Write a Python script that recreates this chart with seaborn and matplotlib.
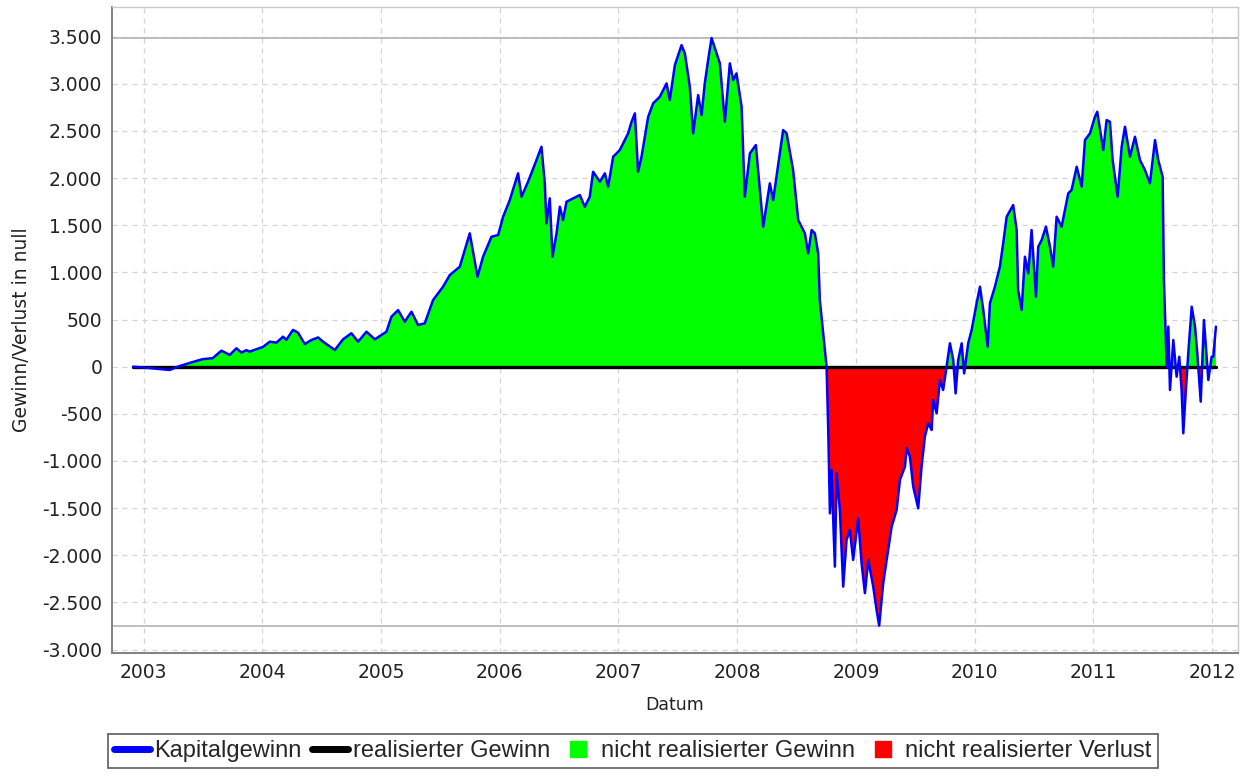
import numpy as np
import pandas as pd
import matplotlib
matplotlib.use("Agg")
import matplotlib.pyplot as plt
import seaborn as sns
from matplotlib.lines import Line2D
from matplotlib.ticker import FuncFormatter, MultipleLocator

jahr = [
    2002.910, 2003.051, 2003.219, 2003.287, 2003.388, 2003.497, 2003.581, 2003.655,
    2003.725, 2003.781, 2003.823, 2003.865, 2003.893, 2004.005, 2004.062, 2004.118,
    2004.174, 2004.202, 2004.258, 2004.300, 2004.357, 2004.413, 2004.469, 2004.511,
    2004.610, 2004.679, 2004.750, 2004.806, 2004.877, 2004.947, 2005.045, 2005.087,
    2005.143, 2005.199, 2005.256, 2005.311, 2005.368, 2005.438, 2005.522, 2005.579,
    2005.663, 2005.747, 2005.812, 2005.859, 2005.930, 2005.986, 2006.028, 2006.084,
    2006.154, 2006.183, 2006.238, 2006.309, 2006.351, 2006.379, 2006.393, 2006.421,
    2006.444, 2006.478, 2006.506, 2006.533, 2006.562, 2006.674, 2006.716, 2006.758,
    2006.786, 2006.843, 2006.885, 2006.913, 2006.955, 2007.011, 2007.081, 2007.110,
    2007.138, 2007.165, 2007.194, 2007.250, 2007.292, 2007.348, 2007.405, 2007.432,
    2007.475, 2007.531, 2007.559, 2007.601, 2007.629, 2007.671, 2007.700, 2007.727,
    2007.755, 2007.784, 2007.826, 2007.854, 2007.896, 2007.938, 2007.966, 2007.994,
    2008.037, 2008.064, 2008.107, 2008.157, 2008.219, 2008.275, 2008.303, 2008.387,
    2008.416, 2008.471, 2008.514, 2008.570, 2008.598, 2008.627, 2008.654, 2008.682,
    2008.696, 2008.724, 2008.753, 2008.767, 2008.781, 2008.795, 2008.808, 2008.823,
    2008.837, 2008.865, 2008.893, 2008.921, 2008.949, 2008.977, 2009.019, 2009.048,
    2009.076, 2009.104, 2009.146, 2009.174, 2009.196, 2009.230, 2009.272, 2009.301,
    2009.343, 2009.371, 2009.413, 2009.427, 2009.455, 2009.483, 2009.525, 2009.553,
    2009.581, 2009.609, 2009.638, 2009.651, 2009.680, 2009.708, 2009.735, 2009.764,
    2009.792, 2009.820, 2009.840, 2009.862, 2009.891, 2009.912, 2009.946, 2009.975,
    2010.017, 2010.045, 2010.073, 2010.110, 2010.129, 2010.171, 2010.213, 2010.241,
    2010.270, 2010.325, 2010.354, 2010.367, 2010.396, 2010.424, 2010.452, 2010.480,
    2010.517, 2010.536, 2010.565, 2010.601, 2010.635, 2010.662, 2010.691, 2010.733,
    2010.789, 2010.817, 2010.860, 2010.902, 2010.930, 2010.972, 2011.014, 2011.033,
    2011.084, 2011.112, 2011.140, 2011.163, 2011.205, 2011.239, 2011.267, 2011.309,
    2011.351, 2011.393, 2011.435, 2011.477, 2011.520, 2011.547, 2011.584, 2011.595,
    2011.618, 2011.632, 2011.646, 2011.674, 2011.702, 2011.724, 2011.744, 2011.758,
    2011.778, 2011.800, 2011.829, 2011.857, 2011.876, 2011.905, 2011.932, 2011.955,
    2011.969, 2011.997, 2012.011, 2012.033,
]

kapitalgewinn = [
    0, -15, -35, 0, 40, 80, 90, 170,
    125, 195, 150, 175, 160, 210, 265, 255,
    318, 285, 390, 360, 240, 283, 310, 265,
    177, 290, 354, 265, 371, 290, 371, 530,
    600, 477, 583, 442, 460, 707, 848, 972,
    1060, 1414, 954, 1166, 1378, 1396, 1590, 1767,
    2050, 1802, 1961, 2191, 2332, 1944, 1520, 1785,
    1166, 1414, 1696, 1555, 1749, 1820, 1696, 1802,
    2067, 1961, 2050, 1908, 2226, 2297, 2474, 2597,
    2686, 2067, 2226, 2650, 2792, 2862, 3004, 2827,
    3198, 3410, 3322, 2968, 2474, 2880, 2668, 3004,
    3251, 3485, 3322, 3216, 2597, 3216, 3039, 3110,
    2756, 1802, 2262, 2350, 1484, 1944, 1767, 2509,
    2474, 2085, 1555, 1414, 1202, 1449, 1414, 1202,
    707, 354, 0, -671, -1555, -1095, -1590, -2120,
    -1130, -1520, -2332, -1837, -1731, -2049, -1607, -2085,
    -2402, -2049, -2332, -2579, -2745, -2296, -1943, -1696,
    -1520, -1201, -1060, -865, -954, -1272, -1502, -1060,
    -742, -600, -671, -353, -494, -141, -247, 0,
    248, 71, -283, 71, 248, -71, 248, 389,
    672, 848, 601, 212, 672, 848, 1060, 1308,
    1590, 1714, 1449, 813, 601, 1166, 990, 1449,
    742, 1272, 1343, 1484, 1272, 1060, 1590, 1484,
    1838, 1873, 2120, 1908, 2403, 2474, 2650, 2703,
    2297, 2615, 2597, 2191, 1802, 2332, 2544, 2226,
    2438, 2191, 2085, 1944, 2403, 2191, 2014, 919,
    0, 424, -247, 283, -106, 106, -247, -706,
    -283, 141, 636, 424, 141, -371, 495, 106,
    -141, 106, 106, 424,
]

realisierter_gewinn = [0.0] * len(jahr)

df = pd.DataFrame({
    "Datum": jahr,
    "Kapitalgewinn": kapitalgewinn,
    "realisiert": realisierter_gewinn,
})

sns.set_style("white")
plt.rcParams["font.family"] = ["DejaVu Sans"]

W, H = 1241, 776
fig = plt.figure(figsize=(W / 100, H / 100), dpi=100)
ax = fig.add_axes([112 / W, 1 - 653 / H, (1238 - 112) / W, (653 - 7) / H])

x = df["Datum"].to_numpy()
y = df["Kapitalgewinn"].to_numpy(dtype=float)
ax.fill_between(x, 0, y, where=y >= 0, interpolate=True, color="#00ff00", lw=0, zorder=1)
ax.fill_between(x, 0, y, where=y <= 0, interpolate=True, color="#ff0000", lw=0, zorder=1)

ax.axhline(df["Kapitalgewinn"].max(), color="#b4b4b4", lw=1.2, zorder=2)
ax.axhline(df["Kapitalgewinn"].min(), color="#b4b4b4", lw=1.2, zorder=2)

sns.lineplot(data=df, x="Datum", y="realisiert", color="black", lw=2.4, ax=ax, zorder=3)
sns.lineplot(data=df, x="Datum", y="Kapitalgewinn", color="#0000ff", lw=1.8, ax=ax, zorder=4)

ax.set_xlim(2002.733, 2012.219)
ax.set_ylim(-3036, 3814)
ax.xaxis.set_major_locator(MultipleLocator(1))
ax.xaxis.set_major_formatter(FuncFormatter(lambda v, p: f"{v:.0f}"))
ax.yaxis.set_major_locator(MultipleLocator(500))
ax.yaxis.set_major_formatter(FuncFormatter(lambda v, p: f"{v:,.0f}".replace(",", ".")))

ax.grid(True, color="#d2d2d2", ls=(0, (4, 4)), lw=0.9)
ax.set_axisbelow(True)

for side in ["left", "bottom"]:
    ax.spines[side].set_color("#808080")
    ax.spines[side].set_linewidth(1.4)
for side in ["top", "right"]:
    ax.spines[side].set_color("#c8c8c8")
    ax.spines[side].set_linewidth(1.0)

ax.tick_params(direction="out", length=4, width=1, color="#808080",
               labelsize=13.5, labelcolor="#222222", pad=3)
ax.set_xlabel("Datum", fontsize=12.5, color="#222222", labelpad=10)
ax.set_ylabel("Gewinn/Verlust in null", fontsize=13.5, color="#222222", labelpad=8)

handles = [
    Line2D([], [], color="#0000ff", lw=5),
    Line2D([], [], color="black", lw=5),
    Line2D([], [], color="#00ff00", marker="s", ms=11, ls="none"),
    Line2D([], [], color="#ff0000", marker="s", ms=11, ls="none"),
]
labels = ["Kapitalgewinn", "realisierter Gewinn",
          "nicht realisierter Gewinn", "nicht realisierter Verlust"]
leg = fig.legend(handles, labels, loc="center", bbox_to_anchor=(633 / W, 1 - 751 / H),
                 ncol=4, frameon=True, fancybox=False, borderpad=0.25,
                 handlelength=1.5, handletextpad=0.2, columnspacing=0.45,
                 prop={"family": ["Liberation Sans", "DejaVu Sans"], "size": 17})
leg.get_frame().set_edgecolor("#333333")
leg.get_frame().set_linewidth(1.2)

fig.savefig("out.png", dpi=100)
